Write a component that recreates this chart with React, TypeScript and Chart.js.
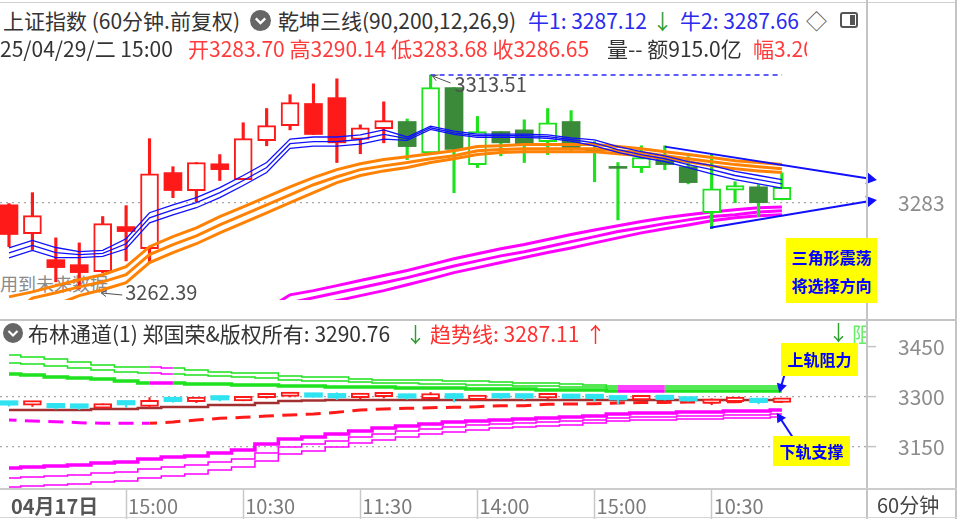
import React, { useEffect, useRef } from "react";
import { Chart, registerables } from "chart.js";

Chart.register(...registerables);

const FONT = '"Noto Sans CJK SC", "Noto Sans", "DejaVu Sans", sans-serif';
Chart.defaults.font.family = FONT;

// ================= DATA =================
// 60-minute candles (index 0 = first bar on screen)
const opens = [3282.5, 3275.6, 3269.4, 3268.2, 3266.5, 3277.3, 3272.0, 3290.2, 3285.9, 3292.3, 3288.5, 3297.8, 3301.4, 3306.7, 3308.1, 3298.1, 3300.7, 3302.4, 3294.9, 3310.5, 3292.1, 3300.0, 3300.4, 3297.6, 3302.4, 3295.3, 3291.5, 3291.4, 3293.8, 3291.6, 3280.6, 3286.0, 3286.8, 3283.70];
const highs = [3282.8, 3285.4, 3274.6, 3273.4, 3279.7, 3282.3, 3298.3, 3291.6, 3292.6, 3294.5, 3302.1, 3305.5, 3308.8, 3311.4, 3312.6, 3301.6, 3307.1, 3303.0, 3313.51, 3310.5, 3303.6, 3300.0, 3302.8, 3305.5, 3305.0, 3297.6, 3292.6, 3296.6, 3296.6, 3294.0, 3294.5, 3288.0, 3287.3, 3290.14];
const lows = [3272.5, 3271.8, 3264.1, 3262.39, 3266.3, 3269.1, 3268.7, 3284.2, 3283.2, 3288.3, 3288.5, 3296.6, 3300.4, 3299.3, 3292.6, 3294.7, 3297.3, 3293.3, 3294.7, 3285.4, 3291.4, 3294.2, 3292.6, 3294.5, 3295.2, 3288.0, 3278.9, 3290.2, 3290.9, 3287.5, 3276.8, 3283.0, 3279.7, 3283.68];
const closes = [3275.4, 3279.9, 3267.5, 3266.3, 3278.0, 3276.1, 3289.9, 3285.9, 3292.6, 3290.9, 3298.3, 3301.4, 3306.9, 3299.3, 3297.3, 3300.9, 3302.6, 3296.4, 3310.5, 3295.7, 3300.0, 3297.3, 3296.9, 3302.1, 3295.7, 3295.1, 3291.2, 3293.8, 3292.1, 3287.8, 3286.3, 3287.1, 3283.0, 3286.65];
// indicator state per bar (bull = red candles, bear = green candles)
const signal = [
  "bull", "bull", "bull", "bull", "bull", "bull", "bull", "bull", "bull", "bull", "bull", "bull", "bull", "bull", "bull", "bull", "bull",
  "bear", "bear", "bear", "bear", "bear", "bear", "bear", "bear", "bear", "bear", "bear", "bear", "bear", "bear", "bear", "bear", "bear",
];

// 乾坤三线 short lines (blue)
const blue1 = [3272.2, 3274.0, 3272.3, 3271.3, 3271.6, 3274.4, 3280.6, 3282.5, 3284.2, 3286.6, 3289.5, 3292.6, 3298.2, 3298.7, 3298.7, 3299.2, 3300.4, 3298.7, 3301.3, 3300.1, 3299.4, 3299.4, 3299.4, 3299.2, 3298.5, 3298.0, 3296.4, 3295.2, 3294.2, 3292.8, 3291.9, 3290.5, 3289.5, 3288.5];
const blue2 = [3271.0, 3272.8, 3271.1, 3270.6, 3270.9, 3273.2, 3279.4, 3281.3, 3283.0, 3285.4, 3288.3, 3291.4, 3297.1, 3297.6, 3297.6, 3298.1, 3299.3, 3298.3, 3300.9, 3299.7, 3299.0, 3299.0, 3299.0, 3298.8, 3298.1, 3297.3, 3295.7, 3294.5, 3293.5, 3292.1, 3290.9, 3289.5, 3288.5, 3287.5];
const blue3 = [3269.8, 3271.6, 3269.9, 3269.9, 3270.2, 3272.0, 3278.2, 3280.1, 3281.8, 3284.2, 3287.1, 3290.2, 3296.0, 3296.5, 3296.5, 3297.0, 3298.2, 3297.9, 3300.5, 3299.3, 3298.6, 3298.6, 3298.6, 3298.4, 3297.7, 3296.6, 3295.0, 3293.8, 3292.8, 3291.4, 3289.9, 3288.5, 3287.5, 3286.5];
// middle lines (orange)
const orange1 = [3260.5, 3261.7, 3263.2, 3264.6, 3265.8, 3267.7, 3272.5, 3274.9, 3277.0, 3279.7, 3282.0, 3284.4, 3286.8, 3289.0, 3290.9, 3292.3, 3293.3, 3294.0, 3294.7, 3295.4, 3296.4, 3296.6, 3296.9, 3296.9, 3296.9, 3296.9, 3296.4, 3295.9, 3295.2, 3294.5, 3293.8, 3293.0, 3292.6, 3292.1];
const orange2 = [3256.0, 3260.2, 3261.5, 3262.9, 3264.1, 3265.8, 3270.6, 3273.0, 3275.1, 3277.7, 3280.1, 3282.5, 3284.9, 3287.3, 3289.2, 3290.9, 3291.8, 3292.6, 3293.5, 3294.2, 3295.4, 3295.7, 3295.9, 3295.9, 3295.9, 3295.9, 3295.4, 3295.0, 3294.2, 3293.5, 3292.8, 3292.1, 3291.6, 3291.1];
const orange3 = [null, 3256.5, 3258.6, 3260.8, 3262.2, 3263.9, 3268.7, 3271.1, 3273.2, 3275.8, 3278.2, 3280.6, 3283.0, 3285.4, 3287.8, 3289.5, 3290.6, 3291.4, 3292.6, 3293.5, 3294.5, 3295.0, 3295.2, 3295.2, 3295.2, 3295.2, 3294.7, 3294.2, 3293.5, 3292.8, 3291.8, 3291.1, 3290.6, 3290.2];
// long lines (magenta)
const pink1 = [null, null, null, null, null, null, null, null, null, null, null, 3257.5, 3261.0, 3262.0, 3263.2, 3264.4, 3265.6, 3266.8, 3268.2, 3269.6, 3270.8, 3272.0, 3273.0, 3274.2, 3275.4, 3276.5, 3277.5, 3278.5, 3279.4, 3280.1, 3280.8, 3281.3, 3281.8, 3282.0];
const pink2 = [null, null, null, null, null, null, null, null, null, null, null, 3255.5, 3259.1, 3260.3, 3261.5, 3262.7, 3263.9, 3265.1, 3266.5, 3267.9, 3269.1, 3270.3, 3271.3, 3272.5, 3273.7, 3274.9, 3276.1, 3277.0, 3278.0, 3278.9, 3279.7, 3280.1, 3280.8, 3281.1];
const pink3 = [null, null, null, null, null, null, null, null, null, null, null, null, 3257.0, 3258.4, 3259.6, 3260.8, 3262.0, 3263.4, 3264.8, 3266.3, 3267.5, 3268.7, 3269.9, 3271.1, 3272.2, 3273.4, 3274.6, 3275.8, 3276.8, 3277.7, 3278.7, 3279.4, 3279.9, 3280.1];

// 布林通道 panel
const upperA = [3426, 3420, 3414, 3405, 3396, 3390, 3390, 3387, 3381, 3375, 3372, 3372, 3363, 3360, 3360, 3354, 3351, 3351, 3351, 3348, 3348, 3345, 3342, 3342, 3339, 3336, 3333, 3333, 3333, 3333, 3333, 3333, 3333, 3333];
const upperB = [3402, 3399, 3393, 3387, 3381, 3375, 3372, 3369, 3366, 3363, 3360, 3357, 3351, 3348, 3348, 3345, 3342, 3342, 3339, 3339, 3336, 3336, 3333, 3333, 3330, 3330, 3327, 3327, 3327, 3327, 3327, 3327, 3327, 3327];
const upperC = [3369, 3366, 3360, 3357, 3354, 3348, 3342, 3342, 3339, 3339, 3336, 3336, 3333, 3333, 3330, 3330, 3330, 3327, 3327, 3327, 3324, 3324, 3324, 3321, 3321, 3321, 3318, 3318, 3318, 3318, 3318, 3318, 3318, 3318];
const midLine = [3261, 3261, 3261, 3261, 3264, 3264, 3267, 3270, 3270, 3276, 3276, 3282, 3288, 3289.5, 3291, 3291, 3291, 3291, 3291, 3291, 3291, 3291, 3291, 3291, 3291, 3291, 3291, 3291, 3291, 3291, 3291, 3291, 3291, 3291];
const trendLine = [3231, 3228, 3226, 3223, 3221, 3221, 3221, 3225, 3231, 3236, 3239, 3243, 3246, 3249, 3254, 3261, 3264, 3266, 3268, 3269, 3271, 3274, 3274, 3278, 3279, 3280, 3282, 3283.5, 3283.5, 3285, 3285, 3286, 3286.5, 3287.11];
const lowerA = [3087, 3090, 3093, 3096, 3102, 3105, 3114, 3120, 3123, 3132, 3141, 3159, 3174, 3180, 3189, 3198, 3207, 3213, 3219, 3225, 3228, 3231, 3234, 3237, 3240, 3243, 3249, 3252, 3252, 3255, 3255, 3258, 3258, 3261];
const lowerB = [3057, 3060, 3063, 3066, 3072, 3075, 3084, 3090, 3096, 3105, 3114, 3132, 3150, 3159, 3168, 3180, 3189, 3198, 3204, 3210, 3216, 3219, 3222, 3225, 3228, 3231, 3237, 3240, 3240, 3243, 3243, 3246, 3246, 3249];
const lowerC = [3030, 3033, 3036, 3039, 3045, 3048, 3057, 3063, 3069, 3081, 3090, 3108, 3129, 3138, 3150, 3162, 3171, 3180, 3189, 3195, 3201, 3207, 3210, 3213, 3216, 3222, 3228, 3231, 3231, 3234, 3234, 3237, 3237, 3240];
const upperPinkSegments = [6, 26, 27];
const trendPinkBefore = 6;

// axes
const xTickValues = [0, 5, 10, 15, 20, 25, 30];
const xTickLabels = ["04月17日", "15:00", "10:30", "11:30", "14:00", "15:00", "10:30"];
const mainYTicks = [3283];
const bandYTicks = [3150, 3300, 3450];

// annotations (data space: [bar index, price])
const highLine = [[18, 3313.51], [33, 3313.51]];
const triangleUpper = [[28, 3296.4], [36.76, 3288.7]];
const triangleLower = [[29.93, 3277.0], [36.76, 3283.4]];
const resistArrow = [[33.13, 3372], [32.96, 3330]];
const supportArrow = [[33.48, 3177], [32.92, 3237]];

// ================= STYLE =================
const X_MIN = -0.384;
const X_MAX = 36.59;
const RED = "#ff1a1a";
const GREEN = "#1de21d";
const DARK_GREEN = "#3a8a3a";
const BLUE = "#1010ff";
const ORANGE = "#ff8205";
const MAGENTA = "#ff00ff";
const CYAN = "#2fe3f0";
const BROWN = "#a33030";
const TEXT = "#333333";

const idx = opens.map((_, i) => i);
const isUp = (i: number) => closes[i] >= opens[i];
const pts = (arr: (number | null)[]) => arr.map((v, i) => ({ x: i, y: v }));
const xy = (arr: number[][]) => arr.map(([x, y]) => ({ x, y }));

function lineDs(arr: (number | null)[], color: string, width: number, order: number, extra: any = {}) {
  return {
    type: "line",
    data: pts(arr),
    borderColor: color,
    borderWidth: width,
    pointRadius: 0,
    pointHoverRadius: 0,
    pointHitRadius: 0,
    fill: false,
    tension: 0,
    spanGaps: false,
    order,
    ...extra,
  };
}

function arrowDs(arr: number[][], color: string, width: number, order: number, radius: number) {
  return {
    type: "line",
    data: xy(arr),
    borderColor: color,
    backgroundColor: color,
    borderWidth: width,
    clip: false,
    fill: false,
    order,
    pointStyle: "triangle",
    pointRadius: [0, radius],
    pointHoverRadius: 0,
    pointBorderWidth: 0,
    pointBackgroundColor: color,
    pointRotation: (c: any) => {
      const d = c.dataset.data;
      const xs = c.chart.scales.x;
      const ys = c.chart.scales.y;
      const dx = xs.getPixelForValue(d[1].x) - xs.getPixelForValue(d[0].x);
      const dy = ys.getPixelForValue(d[1].y) - ys.getPixelForValue(d[0].y);
      return (Math.atan2(dy, dx) * 180) / Math.PI + 90;
    },
  };
}

function wickDs(order: number, thickness: number, color: (i: number) => string) {
  return {
    type: "bar",
    data: idx.map((i) => ({ x: i, y: [lows[i], highs[i]] })),
    grouped: false,
    barThickness: thickness,
    categoryPercentage: 1,
    barPercentage: thickness / 23.42,
    backgroundColor: (c: any) => color(c.dataIndex ?? 0),
    borderWidth: 0,
    order,
  };
}

const noPad = (s: any) => {
  s.paddingTop = 0;
  s.paddingBottom = 0;
  s.paddingLeft = 0;
  s.paddingRight = 0;
};

function xAxis(display: boolean) {
  return {
    type: "linear",
    min: X_MIN,
    max: X_MAX,
    offset: false,
    display,
    position: "bottom",
    afterBuildTicks: (s: any) => {
      s.ticks = xTickValues.map((v) => ({ value: v }));
    },
    afterFit: (s: any) => {
      if (display) s.height = 30;
      noPad(s);
    },
    grid: {
      offset: false,
      drawOnChartArea: false,
      drawTicks: true,
      tickLength: 30,
      tickWidth: 1.5,
      tickColor: (c: any) => (c.index === 0 ? "rgba(0,0,0,0)" : "#c8c8c8"),
    },
    border: { display: false },
    ticks: {
      includeBounds: false,
      autoSkip: false,
      maxRotation: 0,
      minRotation: 0,
      align: "start",
      labelOffset: 2,
      padding: -25,
      color: (c: any) => (c.index === 0 ? "#555" : "#7a7a7a"),
      font: (c: any) => ({ size: 20, family: FONT, weight: c.index === 0 ? "bold" : "normal" }),
      callback: (_v: any, i: number) => xTickLabels[i] ?? "",
    },
  };
}

const extremeLabels = {
  id: "extremeLabels",
  afterDatasetsDraw(chart: any) {
    const { ctx, scales } = chart;
    const xs = scales.x;
    const ys = scales.y;
    let hi = 0;
    let lo = 0;
    highs.forEach((v, i) => {
      if (v > highs[hi]) hi = i;
    });
    lows.forEach((v, i) => {
      if (v < lows[lo]) lo = i;
    });
    const arrow = (x1: number, y1: number, x2: number, y2: number) => {
      ctx.beginPath();
      ctx.moveTo(x1, y1);
      ctx.lineTo(x2, y2);
      ctx.stroke();
      const a = Math.atan2(y2 - y1, x2 - x1);
      const L = 6;
      ctx.beginPath();
      ctx.moveTo(x2 - L * Math.cos(a - 0.55), y2 - L * Math.sin(a - 0.55));
      ctx.lineTo(x2, y2);
      ctx.lineTo(x2 - L * Math.cos(a + 0.55), y2 - L * Math.sin(a + 0.55));
      ctx.stroke();
    };
    ctx.save();
    ctx.font = `20px ${FONT}`;
    ctx.fillStyle = "#505050";
    ctx.strokeStyle = "#505050";
    ctx.lineWidth = 1;
    ctx.textAlign = "left";
    ctx.textBaseline = "middle";
    const hx = xs.getPixelForValue(hi);
    const hy = ys.getPixelForValue(highs[hi]);
    arrow(hx + 20, hy + 8, hx + 2, hy + 1);
    ctx.fillText(highs[hi].toFixed(2), hx + 24, hy + 9);
    const lx = xs.getPixelForValue(lo);
    const ly = ys.getPixelForValue(lows[lo]);
    arrow(lx + 43, ly + 6, lx + 22, ly + 4);
    ctx.fillText(lows[lo].toFixed(2), lx + 46, ly + 3);
    ctx.restore();
  },
};

function yAxis(min: number, max: number, ticks: number[], tickLen: number, pad: number, hideValue: number | null) {
  return {
    type: "linear",
    position: "right",
    min,
    max,
    afterBuildTicks: (s: any) => {
      s.ticks = ticks.map((v) => ({ value: v }));
    },
    afterFit: (s: any) => {
      s.width = 91;
      noPad(s);
    },
    grid: {
      color: (c: any) => (c.tick && c.tick.value === hideValue ? "rgba(0,0,0,0)" : "#a8a8a8"),
      lineWidth: 1.2,
      drawTicks: tickLen > 0,
      tickLength: tickLen,
      tickColor: "#c4c4c4",
      tickWidth: 1.5,
      tickBorderDash: [],
    },
    border: { display: false, dash: [2, 4] },
    ticks: {
      color: "#8c8c8c",
      font: { size: 21, family: FONT },
      padding: pad,
      callback: (v: any) => String(v),
    },
  };
}

const baseOptions = {
  responsive: false,
  maintainAspectRatio: false,
  animation: false,
  events: [],
  layout: { padding: 0, autoPadding: false },
  plugins: { legend: { display: false }, tooltip: { enabled: false } },
};

function mainConfig(): any {
  return {
    type: "bar",
    data: {
      datasets: [
        lineDs(pink1, MAGENTA, 3, 120),
        lineDs(pink2, MAGENTA, 3, 120),
        lineDs(pink3, MAGENTA, 3, 120),
        wickDs(100, 2.5, (i) => (signal[i] === "bull" ? RED : GREEN)),
        {
          type: "bar",
          data: idx.map((i) => ({ x: i, y: [opens[i], closes[i]] })),
          grouped: false,
          barThickness: 18,
          categoryPercentage: 1,
          barPercentage: 0.77,
          minBarLength: 2,
          borderSkipped: false,
          backgroundColor: (c: any) => {
            const i = c.dataIndex ?? 0;
            if (isUp(i)) return "#ffffff";
            return signal[i] === "bull" ? RED : DARK_GREEN;
          },
          borderColor: (c: any) => (signal[c.dataIndex ?? 0] === "bull" ? RED : GREEN),
          borderWidth: (c: any) => (isUp(c.dataIndex ?? 0) ? 2 : 0),
          order: 90,
        },
        lineDs(orange3, ORANGE, 3, 60),
        lineDs(orange2, ORANGE, 3, 60),
        lineDs(orange1, ORANGE, 3, 60),
        lineDs(blue3, BLUE, 1.3, 50),
        lineDs(blue2, BLUE, 1.3, 50),
        lineDs(blue1, BLUE, 1.3, 50),
        {
          type: "line",
          data: xy(highLine),
          borderColor: "#2a2aff",
          borderWidth: 1.5,
          borderDash: [5, 4],
          pointRadius: 0,
          fill: false,
          order: 20,
        },
        arrowDs(triangleUpper, BLUE, 2, 5, 7),
        arrowDs(triangleLower, BLUE, 2, 5, 7),
      ],
    },
    options: {
      ...baseOptions,
      scales: {
        x: xAxis(false),
        y: yAxis(3259.76, 3317.09, mainYTicks, 0, 32, null),
      },
    },
    plugins: [extremeLabels],
  };
}

function bandConfig(): any {
  const upperSeg = {
    borderColor: (c: any) => (upperPinkSegments.includes(c.p0DataIndex) ? MAGENTA : undefined),
  };
  return {
    type: "bar",
    data: {
      datasets: [
        lineDs(upperA, GREEN, 1.5, 50, { stepped: "middle", segment: upperSeg }),
        lineDs(upperB, GREEN, 1.5, 50, { stepped: "middle", segment: upperSeg }),
        lineDs(upperC, GREEN, 3.5, 50, { stepped: "middle", segment: upperSeg }),
        lineDs(lowerA, MAGENTA, 3.5, 50, { stepped: "middle" }),
        lineDs(lowerB, MAGENTA, 1.5, 50, { stepped: "middle" }),
        lineDs(lowerC, MAGENTA, 1.5, 50, { stepped: "middle" }),
        lineDs(midLine, BROWN, 2.5, 45, { stepped: "middle" }),
        lineDs(trendLine, RED, 3, 40, {
          borderDash: [15, 8.42],
          borderDashOffset: 7.5,
          segment: {
            borderColor: (c: any) => (c.p0DataIndex < trendPinkBefore ? MAGENTA : undefined),
          },
        }),
        wickDs(30, 1.5, (i) => (isUp(i) ? RED : CYAN)),
        {
          type: "bar",
          data: idx.map((i) => ({ x: i, y: [opens[i], closes[i]] })),
          grouped: false,
          barThickness: 18,
          categoryPercentage: 1,
          barPercentage: 0.77,
          minBarLength: 4.5,
          borderSkipped: false,
          backgroundColor: (c: any) => (isUp(c.dataIndex ?? 0) ? "#ffffff" : CYAN),
          borderColor: (c: any) => (isUp(c.dataIndex ?? 0) ? RED : CYAN),
          borderWidth: (c: any) => (isUp(c.dataIndex ?? 0) ? 2 : 0),
          order: 20,
        },
        arrowDs(resistArrow, BLUE, 2, 5, 6),
        arrowDs(supportArrow, BLUE, 2, 5, 6),
      ],
    },
    options: {
      ...baseOptions,
      scales: {
        x: xAxis(true),
        y: yAxis(3024, 3525, bandYTicks, 10, 22, 3450),
      },
    },
  };
}

// ================= UI =================
const abs = (left: number, top: number, extra: any = {}): any => ({
  position: "absolute",
  left,
  top,
  whiteSpace: "nowrap",
  ...extra,
});

function Txt(props: { x: number; cy: number; size?: number; color?: string; children: any; z?: number; bold?: boolean }) {
  const size = props.size ?? 21;
  const lh = 26;
  return (
    <div
      style={abs(props.x, props.cy - lh / 2, {
        fontSize: size,
        lineHeight: `${lh}px`,
        color: props.color ?? TEXT,
        zIndex: props.z ?? 3,
        fontWeight: props.bold ? 700 : 400,
      })}
    >
      {props.children}
    </div>
  );
}

function CircleIcon({ x, y, d }: { x: number; y: number; d: number }) {
  return (
    <svg width={d} height={d} style={abs(x, y, { zIndex: 3 })} viewBox="0 0 20 20">
      <circle cx="10" cy="10" r="10" fill="#666" />
      <polyline points="5.5,8 10,12.5 14.5,8" fill="none" stroke="#fff" strokeWidth="2.2" />
    </svg>
  );
}

function Line({ x, y, w, h, c }: { x: number; y: number; w: number; h: number; c: string }) {
  return <div style={abs(x, y, { width: w, height: h, background: c, zIndex: 4 })} />;
}

function YellowBox(props: { x: number; y: number; w: number; h: number; lines: string[]; lh: number; pt: number }) {
  return (
    <div
      style={abs(props.x, props.y, {
        width: props.w,
        height: props.h,
        background: "#ffff00",
        zIndex: 5,
        boxSizing: "border-box",
        paddingTop: props.pt,
        textAlign: "center",
        color: "#0000ff",
        fontWeight: 700,
        fontSize: 16,
        lineHeight: `${props.lh}px`,
      })}
    >
      {props.lines.map((t) => (
        <div key={t}>{t}</div>
      ))}
    </div>
  );
}

export default function App() {
  const mainRef = useRef<HTMLCanvasElement>(null);
  const bandRef = useRef<HTMLCanvasElement>(null);

  useEffect(() => {
    const c1 = new Chart(mainRef.current as HTMLCanvasElement, mainConfig());
    const c2 = new Chart(bandRef.current as HTMLCanvasElement, bandConfig());
    return () => {
      c1.destroy();
      c2.destroy();
    };
  }, []);

  return (
    <div
      style={{
        position: "fixed",
        left: 0,
        top: 0,
        width: 957,
        height: 519,
        overflow: "hidden",
        background: "#ffffff",
        fontFamily: FONT,
      }}
    >
      {/* under-canvas text */}
      <Txt x={0} cy={283} size={18} color="#8a8a8a" z={0}>
        用到未来数据
      </Txt>

      <canvas ref={mainRef} width={957} height={240} style={abs(0, 60, { width: 957, height: 240, zIndex: 1 })} />
      <canvas ref={bandRef} width={957} height={197} style={abs(0, 322, { width: 957, height: 197, zIndex: 1 })} />

      {/* frame lines */}
      <Line x={0} y={2} w={957} h={1} c="#cfcfcf" />
      <Line x={866} y={0} w={1.5} h={519} c="#c4c4c4" />
      <Line x={955} y={0} w={1.5} h={519} c="#c4c4c4" />
      <Line x={0} y={319} w={957} h={2} c="#c4c4c4" />
      <Line x={0} y={488} w={957} h={1.5} c="#cccccc" />
      <Line x={0} y={517} w={957} h={1} c="#d4d4d4" />

      {/* header row 1 */}
      <Txt x={3} cy={20}>上证指数 (60分钟.前复权)</Txt>
      <CircleIcon x={250} y={10} d={21} />
      <Txt x={278} cy={20}>乾坤三线(90,200,12,26,9)</Txt>
      <Txt x={528} cy={20} color="#2a2af0">牛1: 3287.12</Txt>
      <Txt x={652} cy={20} color="#2e9e2e">↓</Txt>
      <Txt x={680} cy={20} color="#2a2af0">牛2: 3287.66</Txt>
      <Txt x={806} cy={20} color="#555">◇</Txt>
      <div
        style={abs(840, 12, {
          width: 18,
          height: 16,
          boxSizing: "border-box",
          border: "2px solid #555",
          borderRadius: 3,
          zIndex: 3,
        })}
      >
        <div style={abs(8, 1, { width: 5, height: 10, background: "#555" })} />
      </div>

      {/* header row 2 */}
      <Txt x={0} cy={48}>25/04/29/二 15:00</Txt>
      <Txt x={188} cy={48} color="#ff3b3b">开3283.70 高3290.14 低3283.68 收3286.65</Txt>
      <Txt x={607} cy={48}>量-- 额915.0亿</Txt>
      <div style={abs(753, 35, { width: 54, height: 26, overflow: "hidden", zIndex: 3 })}>
        <div style={abs(0, 0, { fontSize: 21, lineHeight: "26px", color: "#ff3b3b" })}>幅3.20%</div>
      </div>

      {/* lower panel header */}
      <CircleIcon x={3} y={323} d={20} />
      <Txt x={28} cy={333}>布林通道(1) 郑国荣&版权所有: 3290.76</Txt>
      <Txt x={405} cy={333} color="#2e9e2e">↓</Txt>
      <Txt x={430} cy={333} color="#ff3030">趋势线: 3287.11</Txt>
      <Txt x={585} cy={333} color="#ff3030">↑</Txt>
      <Txt x={828} cy={331} color="#2e9e2e">↓</Txt>
      <div style={abs(852, 320, { width: 14, height: 26, overflow: "hidden", zIndex: 3 })}>
        <div style={abs(0, 0, { fontSize: 21, lineHeight: "26px", color: "#66ee66" })}>阻力</div>
      </div>

      {/* annotation boxes */}
      <YellowBox x={786} y={238} w={91} h={65} lines={["三角形震荡", "将选择方向"]} lh={28} pt={5} />
      <YellowBox x={781} y={343} w={77} h={33} lines={["上轨阻力"]} lh={33} pt={0} />
      <YellowBox x={773} y={436} w={77} h={30} lines={["下轨支撑"]} lh={30} pt={0} />

      {/* period label */}
      <Txt x={877} cy={505} size={20} color="#444">60分钟</Txt>
    </div>
  );
}
